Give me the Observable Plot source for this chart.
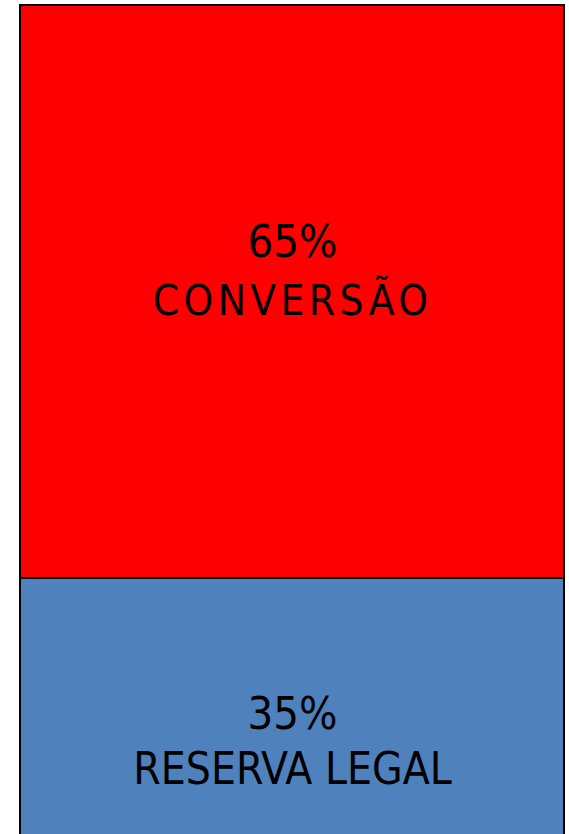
<!DOCTYPE html>
<html><head><meta charset="utf-8">
<script src="https://cdn.jsdelivr.net/npm/d3@7"></script>
<script src="https://cdn.jsdelivr.net/npm/@observablehq/plot@0.6"></script>
<style>html,body{margin:0;padding:0;overflow:hidden;background:#fff}</style>
</head><body><div id="chart"></div>
<script>
const categories = ["RESERVA LEGAL", "CONVERSÃO"];
const values = [35, 65];
const colors = ["#4F81BD", "#FF0000"];

const data = categories.map((c, i) => ({category: c, value: values[i], pct: values[i] + "%"}));
const font = "'DejaVu Sans Condensed', 'DejaVu Sans', sans-serif";
const pick = (cat, field) => d => d.category === cat ? d[field] : null;

const chart = Plot.plot({
  width: 569,
  height: 834,
  marginLeft: 20,
  marginRight: 5,
  marginTop: 5,
  marginBottom: 0,
  style: {overflow: "hidden", background: "#fff", fontFamily: font},
  x: {axis: null},
  y: {axis: null, domain: [0, 100], range: [886.5, 5]},
  color: {domain: categories, range: colors},
  marks: [
    Plot.barY(data, Plot.stackY({y: "value", fill: "category", stroke: "#000", strokeWidth: 2, order: null})),
    Plot.text(data, Plot.stackY({y: "value", order: null, text: pick("CONVERSÃO", "pct"), lineAnchor: "bottom", dy: -34.5, fontSize: 45, fill: "#000"})),
    Plot.text(data, Plot.stackY({y: "value", order: null, text: pick("CONVERSÃO", "category"), lineAnchor: "bottom", dy: 23.5, dx: 0, fontSize: 42, fill: "#000"})),
    Plot.text(data, Plot.stackY({y: "value", order: null, text: pick("RESERVA LEGAL", "pct"), lineAnchor: "bottom", dy: -4, fontSize: 45, fill: "#000"})),
    Plot.text(data, Plot.stackY({y: "value", order: null, text: pick("RESERVA LEGAL", "category"), lineAnchor: "bottom", dy: 51, fontSize: 44, fill: "#000"}))
  ]
});
d3.select(chart).selectAll("text").filter(function() { return this.textContent === "CONVERSÃO"; })
  .style("letter-spacing", "4.4px");
document.getElementById("chart").appendChild(chart);
</script>
</body></html>
